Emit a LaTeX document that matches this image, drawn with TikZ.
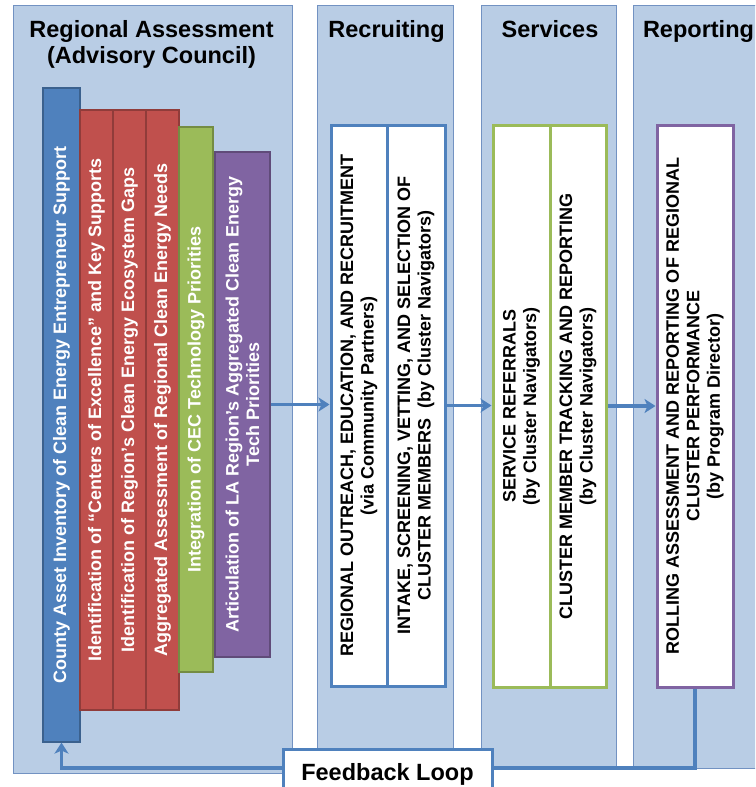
\documentclass[tikz,border=0pt]{standalone}
\usepackage{fontspec}
\setmainfont{Liberation Sans}
\usepackage{xcolor}
\usetikzlibrary{positioning,arrows.meta}
\definecolor{panelblue}{HTML}{B9CDE5}
\definecolor{paneledge}{HTML}{7292C2}
\definecolor{accblue}{HTML}{4F81BD}
\definecolor{accred}{HTML}{C0504D}
\definecolor{accgreen}{HTML}{9BBB59}
\definecolor{accpurple}{HTML}{8064A2}

\begin{document}
\begin{tikzpicture}[x=1pt,y=-1pt,
    panel/.style={draw=paneledge,fill=panelblue,line width=.8pt,inner sep=0pt},
    heading/.style={font=\fontsize{23.5}{26}\selectfont\bfseries,anchor=base},
    bar/.style={draw=#1!75!black,fill=#1,line width=1.2pt,rotate=90,inner sep=0pt,
      text=white,align=center,font=\fontsize{18}{20.5}\selectfont\bfseries},
    stage/.style={draw=#1,fill=white,line width=3pt,rotate=90,inner sep=0pt,
      align=center,font=\fontsize{18}{20.5}\selectfont\bfseries},
    flow/.style={draw=accblue,line width=3.2pt,-{Stealth[length=11pt,width=14pt,inset=3pt]}}]
    \useasboundingbox (0,0) rectangle (755,787); \clip (0,0) rectangle (755,787);
    \node[panel,minimum width=279,minimum height=768] (assess) at (152.5,389) {};
    \node[panel,minimum width=136,minimum height=763] (recruit) at (385,386.5) {};
    \node[panel,minimum width=135,minimum height=763] (serve) at (548.5,386.5) {};
    \node[panel,minimum width=170,minimum height=763] (report) at (718,386.5) {};
    \node[heading] (assesstitle) at (151.5,37) {Regional Assessment};
    \node[heading] (council) at (151.5,63) {(Advisory Council)};
    \node[heading] (recruittitle) at (386.5,37) {Recruiting};
    \node[heading] (servetitle) at (550,37) {Services};
    \node[heading] (reporttitle) at (698.5,37) {Reporting};
    \node[bar=accblue,minimum width=654,minimum height=37] (county) at (61.5,415)
      {County Asset Inventory of Clean Energy Entrepreneur Support};
    \node[bar=accred,minimum width=600,minimum height=33] (centers) at (96.5,410)
      {Identification of “Centers of Excellence” and Key Supports};
    \node[bar=accred,minimum width=600,minimum height=33] (gaps) at (129.5,410)
      {Identification of Region’s Clean Energy Ecosystem Gaps};
    \node[bar=accred,minimum width=600,minimum height=33] (needs) at (162.5,410)
      {Aggregated Assessment of Regional Clean Energy Needs};
    \node[bar=accgreen,minimum width=545,minimum height=34] (cec) at (196,399.5)
      {Integration of CEC Technology Priorities};
    \node[bar=accpurple,minimum width=505,minimum height=55] (techprio) at (242.5,404.5)
      {Articulation of LA Region’s Aggregated Clean Energy\\Tech Priorities};
    \node[stage=accblue,minimum width=561,minimum height=56] (outreach) at (359,405.5)
      {REGIONAL OUTREACH, EDUCATION, AND RECRUITMENT\\(via Community Partners)};
    \node[stage=accblue,minimum width=561,minimum height=58] (intake) at (416,405.5)
      {INTAKE, SCREENING, VETTING, AND SELECTION OF\\CLUSTER MEMBERS\ \ (by Cluster Navigators)};
    \node[stage=accgreen,minimum width=562,minimum height=57] (referral) at (521.5,406)
      {SERVICE REFERRALS\\(by Cluster Navigators)};
    \node[stage=accgreen,minimum width=562,minimum height=56] (tracking) at (578,406)
      {CLUSTER MEMBER TRACKING AND REPORTING\\(by Cluster Navigators)};
    \node[stage=accpurple,minimum width=562,minimum height=76] (rolling) at (695,406)
      {ROLLING ASSESSMENT AND REPORTING OF REGIONAL\\CLUSTER PERFORMANCE\\(by Program Director)};
    \draw[flow] (techprio.south) -- (techprio.south -| outreach.north);
    \draw[flow] (intake.south) -- (intake.south -| referral.north);
    \draw[flow] (tracking.south) -- (tracking.south -| rolling.north);
    \coordinate (loopbase) at (0,768);
    \draw[flow] (rolling.west) -- (rolling.west |- loopbase) -| (county.west);
    \node[draw=accblue,fill=white,line width=3pt,minimum width=209,minimum height=50,anchor=north,
      font=\fontsize{23.5}{26}\selectfont\bfseries] (feedback) at (387.5,748) {Feedback Loop};
  \end{tikzpicture}
\end{document}
